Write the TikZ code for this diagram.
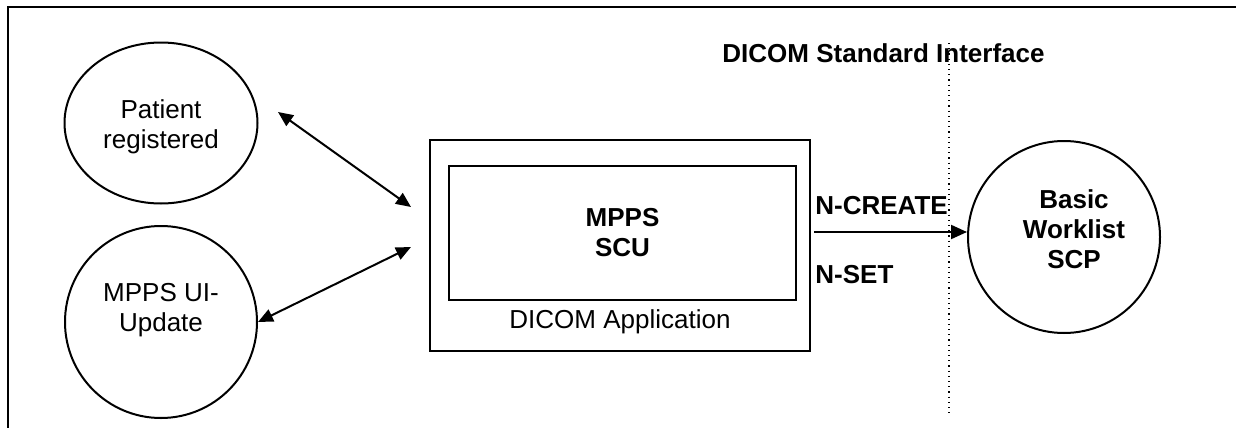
\documentclass[tikz,border=0pt]{standalone}
\usepackage{fontspec}
\setmainfont{Liberation Sans}
\usetikzlibrary{arrows.meta,shapes.geometric}
\def\labelsize{\fontsize{13}{15}\selectfont}
\colorlet{shape edge}{black}
\tikzset{frame/.style={draw=shape edge, line width=1.2pt},
    oval/.style={ellipse, draw=shape edge, line width=1pt, align=center,
        minimum width=96.5pt, minimum height=80.5pt, inner sep=0pt},
    bubble/.style={circle, draw=shape edge, line width=1pt, align=center,
        minimum size=96pt, inner sep=0pt},
    box/.style={rectangle, draw=shape edge, line width=1pt, align=center},
    link/.style={line width=1pt, {Triangle[length=7.5pt,width=6.5pt]}-{Triangle[length=7.5pt,width=6.5pt]}},
    push/.style={line width=1pt, -{Triangle[length=8pt,width=7pt]}},
    boundary/.style={draw=shape edge, line width=0.6pt, dotted},
    word/.style={inner sep=0pt, align=center},
    heavy/.style={font=\labelsize\bfseries}}

\begin{document}
\begin{tikzpicture}[x=0.5pt, y=-0.5pt, font=\labelsize]
    \useasboundingbox (0,0) rectangle (1236,428);
    \draw[frame] (1236,7) -- (8,7) -- (8,428);
    % local side
    \node[oval] (reg) at (161,123) {};
    \node[word] (regtext) at (161,127) {Patient\\registered};
    \node[bubble] (upd) at (161,322) {};
    \node[word] (updtext) at (161,310) {MPPS UI-\\Update};
    \node[box, minimum width=190pt, minimum height=105.5pt] (app) at (620,245.5) {};
    \node[box, heavy, minimum width=173.5pt, minimum height=67pt] (scu) at (622.5,233) {MPPS\\SCU};
    \node[word, anchor=base] (apptext) at (620,328) {DICOM Application};
    \coordinate (regend) at (278,112);
    \coordinate (appin) at (411,207);
    \coordinate (appout) at (411,247);
    \draw[link] (regend) -- (appin);
    \draw[link] (upd.east) -- (appout);
    % remote side
    \node[bubble] (wl) at (1064,237) {};
    \node[word, heavy] (wltext) at (1074,229) {Basic\\Worklist\\SCP};
    \coordinate (send) at (814,232);
    \draw[push] (send) -- (send -| wl.west);
    \node[word, heavy, anchor=base west] (create) at (815,214) {N-CREATE};
    \node[word, heavy, anchor=base west] (set) at (815,283) {N-SET};
    \coordinate (top) at (949,43);
    \coordinate (bottom) at (949,415);
    \draw[boundary] (top) -- (bottom);
    \node[word, heavy, anchor=base east] (iface) at (1045,62) {DICOM Standard Interface};
\end{tikzpicture}
\end{document}
